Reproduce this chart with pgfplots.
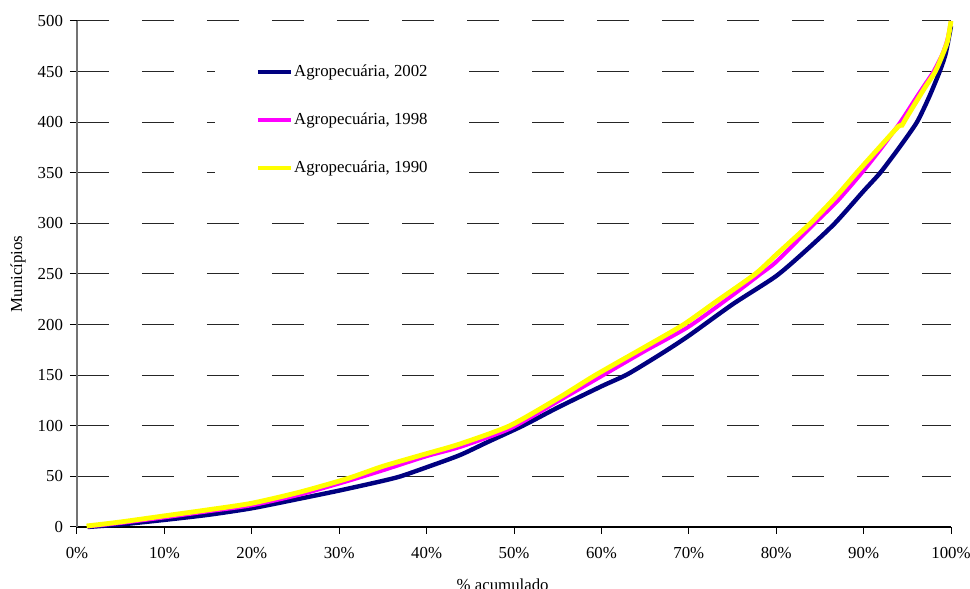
\documentclass[border=0pt]{standalone}
\usepackage{fontspec}
\setmainfont{Liberation Serif}
\usepackage{pgfplots}
\pgfplotsset{compat=1.18}
\definecolor{navy2002}{RGB}{0,0,128}
\definecolor{pink1998}{RGB}{255,0,255}
\definecolor{yel1990}{RGB}{255,255,0}
\begin{document}
\begin{tikzpicture}
\begin{axis}[
  at={(0,0)}, anchor=south west,
  scale only axis,
  width=437pt, height=253pt,
  xmin=0, xmax=100, ymin=0, ymax=500,
  clip=false,
  axis x line=bottom, axis y line=left,
  axis line style={-},
  x axis line style={black, line width=0.6pt},
  y axis line style={black!55, line width=0.6pt},
  xtick={0,10,...,100},
  ytick={0,50,...,500},
  xticklabel={\pgfmathprintnumber{\tick}\%},
  /pgf/number format/assume math mode=true,
  tick align=outside,
  major tick length=3.5pt,
  tick style={black, line width=0.5pt},
  ymajorgrids,
  major grid style={black!85, line width=0.5pt, dash pattern=on 16pt off 16.5pt},
  font=\fontsize{8.4}{10}\selectfont,
  tick label style={font=\fontsize{8.4}{10}\selectfont},
  x tick label style={yshift=-3pt},
  xlabel={\% acumulado},
  ylabel={Municípios},
  x label style={at={(axis description cs:0.487,0)}, anchor=base, yshift=-32pt},
  y label style={at={(axis description cs:-0.0675,0.5)}, anchor=center},
  legend cell align=left,
  legend style={at={(axis cs:15.79,487)}, anchor=north west, draw=none, fill=white,
    inner xsep=20pt, inner ysep=13pt, row sep=12.7pt,
    font=\fontsize{8.4}{10}\selectfont,
    nodes={inner xsep=0.5pt, inner ysep=2pt}},
  legend image code/.code={\draw[#1] (0pt,0pt) -- (16.5pt,0pt);},
]
\addplot[navy2002, line width=2.2pt, smooth, tension=0.4] coordinates {
(1.2,0) (5,2.5) (10,7) (15,12) (20,18.5) (25.5,28) (30,36) (34.7,45) (37,50)
(40,59) (43.8,71) (47,84) (51,100) (55,118) (60,139) (63,151) (67,172) (70,189)
(75,220) (80,248) (83.5,274) (86.7,300) (90,332) (91.9,350) (94,374) (96.1,400)
(97.5,425) (98.7,450) (99.4,468) (100,495)
};
\addlegendentry{Agropecuária, 2002}
\addplot[pink1998, line width=2pt, smooth, tension=0.4] coordinates {
(1.2,0.5) (5,4) (10,9.5) (15,15.5) (20,21.5) (25.5,32) (31,45.5) (35,56) (40,70)
(43.8,79) (49.5,97) (55,124) (59.8,148) (65,174) (70,198) (75,229) (78.2,250)
(80,262) (84.4,300) (87,322) (89.8,350) (92,374) (94.2,400) (96,424) (97,437)
(98,450) (99,467) (99.6,482) (100,500)
};
\addlegendentry{Agropecuária, 1998}
\addplot[yel1990, line width=2.4pt, smooth, tension=0.4] coordinates {
(1.1,1) (5,5) (10,11) (15,17) (20,23.5) (25.5,34.5) (31,48) (35,60) (40,72.5)
(43.8,82) (49.5,100) (55,127) (59.3,150) (65,178) (69.4,200) (73,222) (77.6,250)
(80,269) (83.9,300) (87,328) (89.2,350) (92,377) (94,396) (94.4,397) (94.8,403)
(96,420) (97,434) (98.2,450) (99,466) (99.6,480) (100,500)
};
\addlegendentry{Agropecuária, 1990}
\end{axis}
\pgfresetboundingbox
\path[use as bounding box] (-38.5pt,-31pt) rectangle (446.5pt,263.5pt);
\end{tikzpicture}
\end{document}
